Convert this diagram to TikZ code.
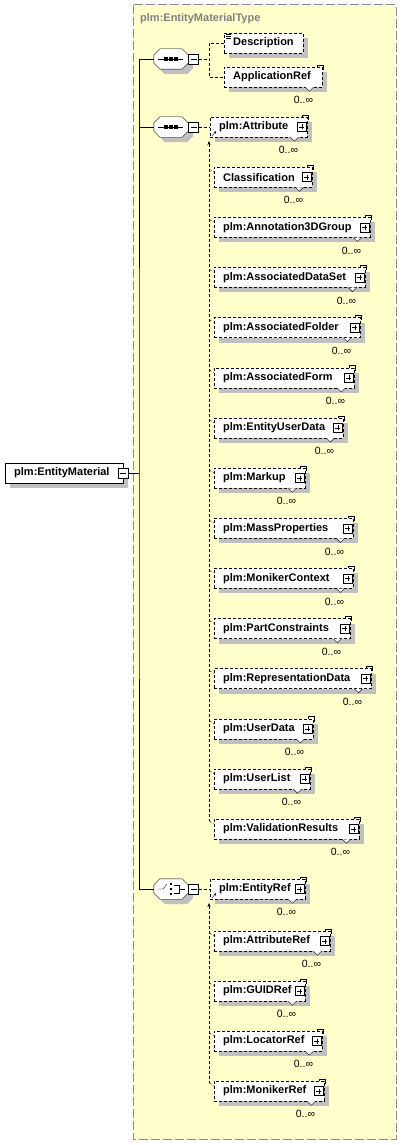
\documentclass[tikz,border=0pt]{standalone}
\usepackage{fontspec}
\setmainfont{Liberation Sans}
\usepackage{tikz}
\usetikzlibrary{shapes,arrows.meta,positioning,calc,shadows}
\definecolor{typebg}{HTML}{FFFFCC}
\definecolor{typeframe}{HTML}{8C8C8C}
\definecolor{typetitle}{HTML}{808080}
\definecolor{shadowgray}{HTML}{C0C0C0}
\hyphenpenalty=10000

\begin{document}
\begin{tikzpicture}[x=1pt, y=-1pt,
  every node/.style={font=\bfseries\fontsize{11}{13}\selectfont},
  dropshade/.style={drop shadow={shadow xshift=5pt, shadow yshift=-5pt, fill=shadowgray, opacity=1}},
  elem/.style={rectangle, draw, dash pattern=on 3pt off 2pt, fill=white, dropshade, minimum height=20pt, inner xsep=9pt, inner ysep=0pt, anchor=west, align=left, text width=#1},
  rootbox/.style={rectangle, draw, solid, fill=white, dropshade, minimum height=20pt, inner xsep=9pt, inner ysep=0pt, anchor=west, align=left, text width=#1},
  compo/.style={rectangle, minimum width=34pt, minimum height=20pt, inner sep=0pt},
  minusbox/.style={rectangle, draw, solid, fill=white, minimum size=10pt, inner sep=0pt,
    path picture={\draw ([xshift=2pt]path picture bounding box.west) -- ([xshift=-2pt]path picture bounding box.east);}},
  plusbox/.style={rectangle, draw, solid, fill=white, minimum size=9pt, inner sep=0pt,
    path picture={\draw ([xshift=2pt]path picture bounding box.west) -- ([xshift=-2pt]path picture bounding box.east)
      ([yshift=2pt]path picture bounding box.south) -- ([yshift=-2pt]path picture bounding box.north);}},
  card/.style={font=\fontsize{10.5}{12}\selectfont, inner sep=0pt},
  link/.style={dash pattern=on 3pt off 2pt}]

\useasboundingbox (0,0) rectangle (402,1145);
% complex type frame
\filldraw[fill=typebg, draw=typeframe, line width=1pt, dash pattern=on 9pt off 3pt] (133,5) rectangle (396,1139);
\node[anchor=west, text=typetitle, inner sep=0pt] (typename) at (140,19) {plm:EntityMaterialType};

% root element
\node[rootbox=100pt] (root) at (5,473) {plm:EntityMaterial};
\node[minusbox] (rootm) at (root.east) {};

% compositors
\node[compo] (seq1) at (171,59) {};
\node[compo] (seq2) at (171,127) {};
\node[compo] (choice) at (171,889) {};
\foreach \s in {seq1,seq2,choice}
  \filldraw[fill=white, dropshade] ([xshift=6pt]\s.north west) -- ([xshift=-6pt]\s.north east)
    -- ([yshift=-6pt]\s.north east) -- ([yshift=6pt]\s.south east) -- ([xshift=-6pt]\s.south east)
    -- ([xshift=6pt]\s.south west) -- ([yshift=6pt]\s.south west) -- ([yshift=-6pt]\s.north west) -- cycle;
\node[minusbox] (m1) at (193.5,59) {};
\node[minusbox] (m2) at (193.5,127) {};
\node[minusbox] (m3) at (193.5,889) {};
\foreach \s in {seq1,seq2} {
  \draw ([xshift=-13pt]\s.center) -- ([xshift=12pt]\s.center);
  \foreach \d in {-5,0,5}
    \fill ([xshift=\d pt]\s.center) +(-1.6,-1.6) rectangle +(1.6,1.6);
}
\draw ([xshift=-13pt]choice.center) -- ++(5,0) -- ++(4,-5);
\foreach \d in {-5,0,5}
  \fill ([yshift=\d pt]choice.center) +(-1.3,-1.3) rectangle +(1.3,1.3);
\draw ([xshift=3pt,yshift=4pt]choice.center) -- ++(5,0) -- ++(0,8) -- ++(-5,0);
\draw ([xshift=8pt]choice.center) -- ++(6,0);

% first sequence
\node[elem=61pt] (desc) at (224,43) {Description};
\node[elem=80pt] (appref) at (224,77) {ApplicationRef};
\foreach \d in {1,3,5}
  \draw[solid] ([xshift=2pt,yshift=-\d pt]desc.north west) -- ++(5,0);

% second sequence
\node[elem=79pt] (s0) at (210,127) {plm:Attribute};
\foreach \i/\nm/\w in {1/Classification/98, 2/plm:Annotation3DGroup/156, 3/plm:AssociatedDataSet/151,
    4/plm:AssociatedFolder/146, 5/plm:AssociatedForm/140, 6/plm:EntityUserData/129, 7/plm:Markup/91,
    8/plm:MassProperties/139, 9/plm:MonikerContext/139, 10/plm:PartConstraints/136,
    11/plm:RepresentationData/157, 12/plm:UserData/99, 13/plm:UserList/96, 14/plm:ValidationResults/145} {
  \pgfmathsetmacro\tw{\w-18}
  \node[elem=\tw pt] (s\i) at (214,{127+50.15*\i}) {\nm};
}

% choice
\node[elem=77pt] (c0) at (210,889) {plm:EntityRef};
\foreach \i/\nm/\w/\yy in {1/plm:AttributeRef/116/941, 2/plm:GUIDRef/91/991,
    3/plm:LocatorRef/108/1041, 4/plm:MonikerRef/110/1091} {
  \pgfmathsetmacro\tw{\w-18}
  \node[elem=\tw pt] (c\i) at (214,\yy) {\nm};
}

% occurrence marks
\foreach \n in {appref,s0,s1,s2,s3,s4,s5,s6,s7,s8,s9,s10,s11,s12,s13,s14,c0,c1,c2,c3,c4} {
  \draw[solid] ([xshift=-5pt]\n.north east) -- ++(0,-2) -- ++(6,0) -- ++(0,5);
  \draw[solid, fill=white] ([xshift=-17pt]\n.south east) -- ++(4,4) -- ++(4,-4);
  \node[card] (\n-card) at ([xshift=-19pt,yshift=-13pt]\n.south east) {0..∞};
}
\foreach \n in {s0,s1,s2,s3,s4,s5,s6,s7,s8,s9,s10,s11,s12,s13,s14,c0,c1,c2,c3,c4}
  \node[plusbox] (\n-plus) at ([xshift=-5.5pt]\n.east) {};
\foreach \n in {s0,c0}
  \draw[solid, -{Stealth[length=2.5pt,width=2.5pt]}] ([xshift=2pt,yshift=1pt]\n.south west) -- ++(4,-5);

% connectors
\coordinate (trunk) at (139,473);
\draw (rootm.east) -- (trunk);
\draw (seq1.west) -| (trunk) |- (choice.west);
\draw (seq2.west) -- (seq2.west -| trunk);

\coordinate (fork1) at (209,59);
\draw[link] (m1.east) -- (fork1);
\draw[link] (desc.west) -| (fork1) |- (appref.west);

\draw[link] (m2.east) -- (s0.west);
\coordinate (bus2) at (209,141);
\draw[link, {Stealth[length=4pt,width=3pt]}-] (bus2) -- ($(bus2 |- s14.north)+(0,2)$);
\foreach \i in {1,...,14}
  \draw[link] ($(bus2 |- s\i.north)+(0,2)$) -- ($(s\i.north west)+(0,5)$);

\draw[link] (m3.east) -- (c0.west);
\coordinate (bus3) at (209,903);
\draw[link, {Stealth[length=4pt,width=3pt]}-] (bus3) -- ($(bus3 |- c4.north)+(0,2)$);
\foreach \i in {1,...,4}
  \draw[link] ($(bus3 |- c\i.north)+(0,2)$) -- ($(c\i.north west)+(0,5)$);
\end{tikzpicture}
\end{document}
